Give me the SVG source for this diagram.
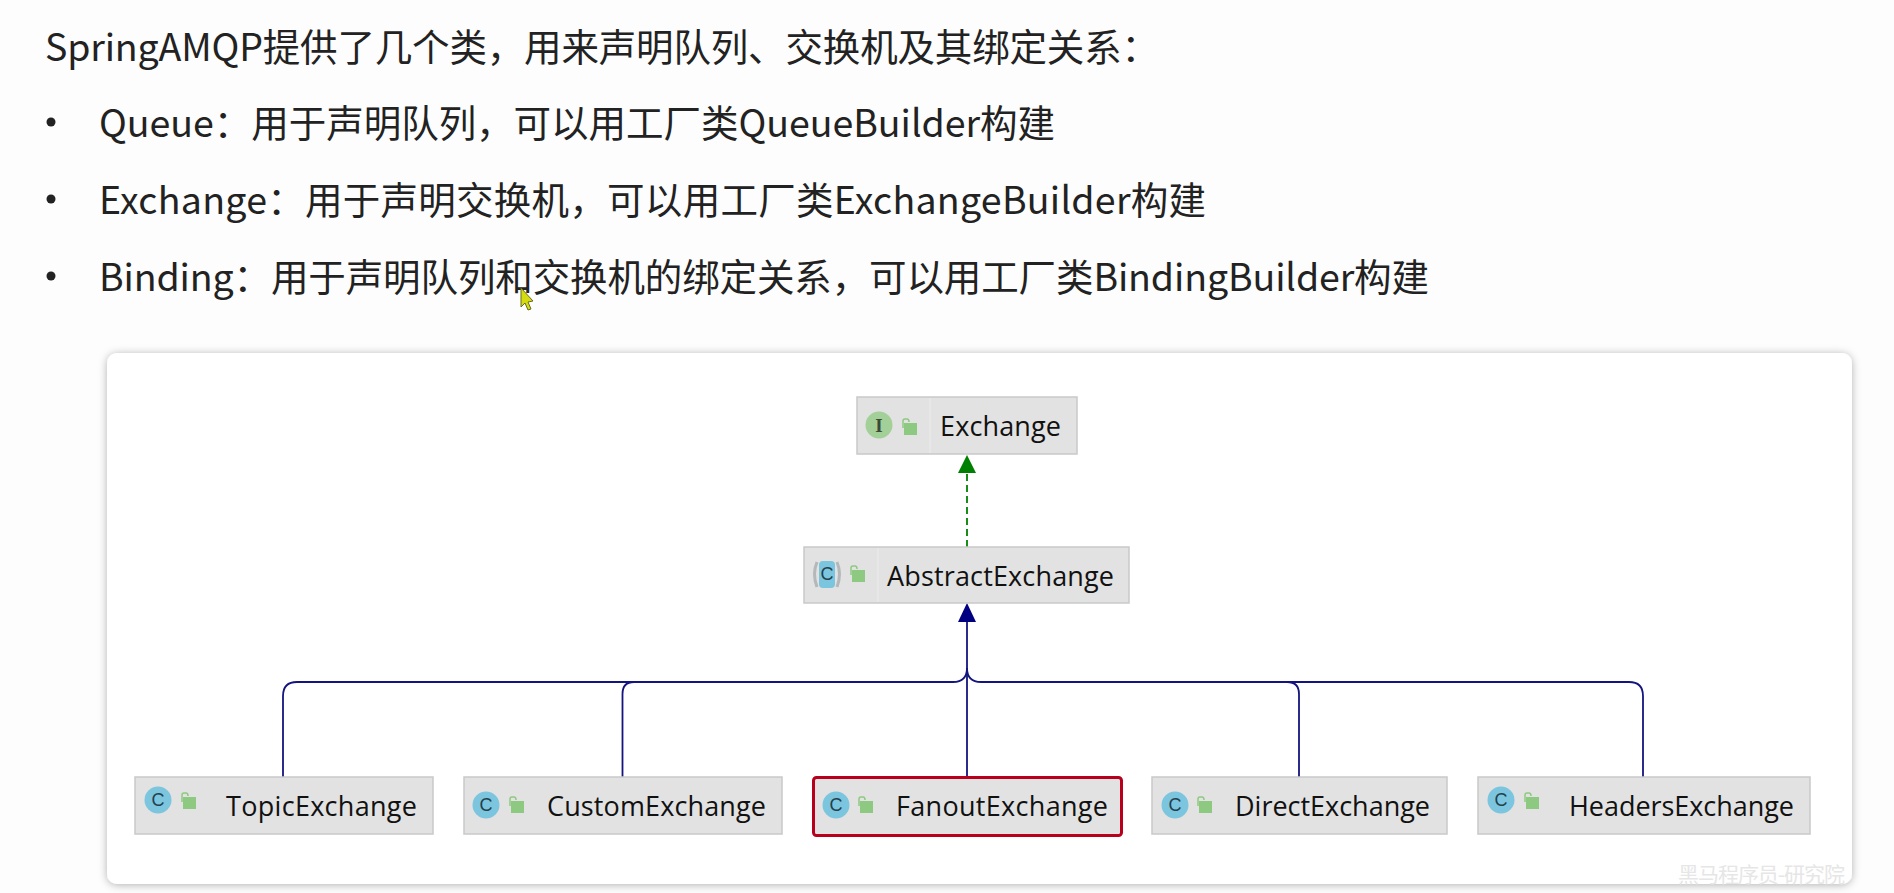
<svg xmlns="http://www.w3.org/2000/svg" width="1894" height="893" viewBox="0 0 1894 893">
<style>
.t{font-family:"Noto Sans CJK SC","Noto Sans",sans-serif;font-size:37.500px;fill:#222}
.n{fill:#e2e2e2;stroke:#c9c9c9;stroke-width:1.5}
.l{font-family:"Open Sans","Noto Sans",sans-serif;font-size:27px;fill:#111}
.c{fill:#7cc5de}
.g{font-family:"Liberation Sans",sans-serif;font-size:18px;fill:#23404c;text-anchor:middle}
.k{fill:#8ec981}
.s{fill:none;stroke:#8ec981;stroke-width:1.5}
.e{fill:none;stroke:#14147e;stroke-width:1.800}
</style>
<defs>
<filter id="sh" x="-3%" y="-5%" width="106%" height="110%"><feDropShadow dx="0" dy="1" stdDeviation="4" flood-color="#000" flood-opacity="0.3"/></filter>
<marker id="nav" markerUnits="userSpaceOnUse" markerWidth="20" markerHeight="20" refX="0" refY="10" orient="auto"><path d="M0,1 L19,10 L0,19Z" fill="#000080"/></marker>
<marker id="grn" markerUnits="userSpaceOnUse" markerWidth="20" markerHeight="20" refX="0" refY="10" orient="auto"><path d="M0,1 L18,10 L0,19Z" fill="#008000"/></marker>
<symbol id="lock" overflow="visible"><rect x="-6" y="-5" width="13" height="12" class="k"/><path d="M-7,0 V-7 Q-7,-9 -5,-9 H-3 Q-1,-9 -1,-6" class="s"/></symbol>
</defs>
<rect width="1894" height="893" fill="#fdfdfd"/>
<g id="heading">
<text class="t" x="45" y="61" textLength="1114">SpringAMQP提供了几个类，用来声明队列、交换机及其绑定关系：</text>
<circle cx="51" cy="122" r="4.5" fill="#222"/>
<text class="t" x="99" y="137" textLength="956">Queue：用于声明队列，可以用工厂类QueueBuilder构建</text>
<circle cx="51" cy="199" r="4.5" fill="#222"/>
<text class="t" x="99" y="214" textLength="1107">Exchange：用于声明交换机，可以用工厂类ExchangeBuilder构建</text>
<circle cx="51" cy="276" r="4.5" fill="#222"/>
<text class="t" x="99" y="291" textLength="1330">Binding：用于声明队列和交换机的绑定关系，可以用工厂类BindingBuilder构建</text>
</g>
<path id="cursor" d="M521,288 L521,307 L525,303 L528,310 L531,309 L528,302 L533,301Z" fill="#d4dc10" stroke="#6a6a20" stroke-width="1"/>
<rect id="card" x="107" y="353" width="1745" height="531" rx="10" fill="#fff" filter="url(#sh)"/>
<g id="connectors">
<path class="e" d="M967,547 V473" stroke-dasharray="7 4" style="stroke:#008000;marker-end:url(#grn)"/>
<path class="e" d="M967,777 V622" style="marker-end:url(#nav)"/>
<path class="e" d="M283,777 V696 Q283,682 297,682 H953 Q967,682 967,668"/>
<path class="e" d="M622.500,777 V694 Q622.500,682 634,682 H953"/>
<path class="e" d="M1643,777 V696 Q1643,682 1629,682 H981 Q967,682 967,668"/>
<path class="e" d="M1299,777 V694 Q1299,682 1287,682 H1270"/>
</g>
<g id="node-exchange">
<rect class="n" x="857" y="397" width="220" height="57"/>
<path d="M930,398 V453" stroke="#e8e8e8" stroke-width="1.500"/>
<circle cx="879" cy="425" r="13.500" fill="#a3d098"/>
<text x="879" y="432" text-anchor="middle" font-family="Liberation Serif,serif" font-size="19" font-weight="bold" fill="#3b4a38">I</text>
<use href="#lock" x="910" y="428"/>
<text class="l" x="940" y="436" textLength="121">Exchange</text>
</g>
<g id="node-abstractexchange">
<rect class="n" x="804" y="547" width="325" height="56"/>
<path d="M878,548 V602" stroke="#e8e8e8" stroke-width="1.500"/>
<path d="M817,562 Q812,574 817,587 M837,562 Q842,574 837,587" fill="none" stroke="#b4b8bb" stroke-width="3"/>
<rect x="819" y="561" width="16" height="27" rx="4" class="c"/>
<text class="g" x="827" y="580">C</text>
<use href="#lock" x="858" y="575"/>
<text class="l" x="887" y="586" textLength="227">AbstractExchange</text>
</g>
<g id="node-topicexchange">
<rect class="n" x="135" y="777" width="298" height="57"/>
<circle class="c" cx="158" cy="800" r="13.500"/>
<text class="g" x="158" y="806">C</text>
<use href="#lock" x="189" y="802"/>
<text class="l" x="226" y="816" textLength="191">TopicExchange</text>
</g>
<g id="node-customexchange">
<rect class="n" x="464" y="777" width="318" height="57"/>
<circle class="c" cx="486" cy="805" r="13.500"/>
<text class="g" x="486" y="811">C</text>
<use href="#lock" x="517" y="806"/>
<text class="l" x="547" y="816" textLength="219">CustomExchange</text>
</g>
<g id="node-fanoutexchange">
<rect x="813.500" y="777.500" width="308" height="58" rx="3" fill="#e2e2e2" stroke="#b8001c" stroke-width="3"/>
<circle class="c" cx="836" cy="805" r="13.500"/>
<text class="g" x="836" y="811">C</text>
<use href="#lock" x="866" y="806"/>
<text class="l" x="896" y="816" textLength="212">FanoutExchange</text>
</g>
<g id="node-directexchange">
<rect class="n" x="1152" y="777" width="295" height="57"/>
<circle class="c" cx="1175" cy="805" r="13.500"/>
<text class="g" x="1175" y="811">C</text>
<use href="#lock" x="1205" y="806"/>
<text class="l" x="1235" y="816" textLength="195">DirectExchange</text>
</g>
<g id="node-headersexchange">
<rect class="n" x="1478" y="777" width="332" height="57"/>
<circle class="c" cx="1501" cy="800" r="13.500"/>
<text class="g" x="1501" y="806">C</text>
<use href="#lock" x="1532" y="802"/>
<text class="l" x="1569" y="816" textLength="225">HeadersExchange</text>
</g>
<text id="watermark" x="1678" y="882" font-family="Noto Sans CJK SC,sans-serif" font-size="21" fill="#e6e6e6" textLength="167">黑马程序员-研究院</text>
</svg>
